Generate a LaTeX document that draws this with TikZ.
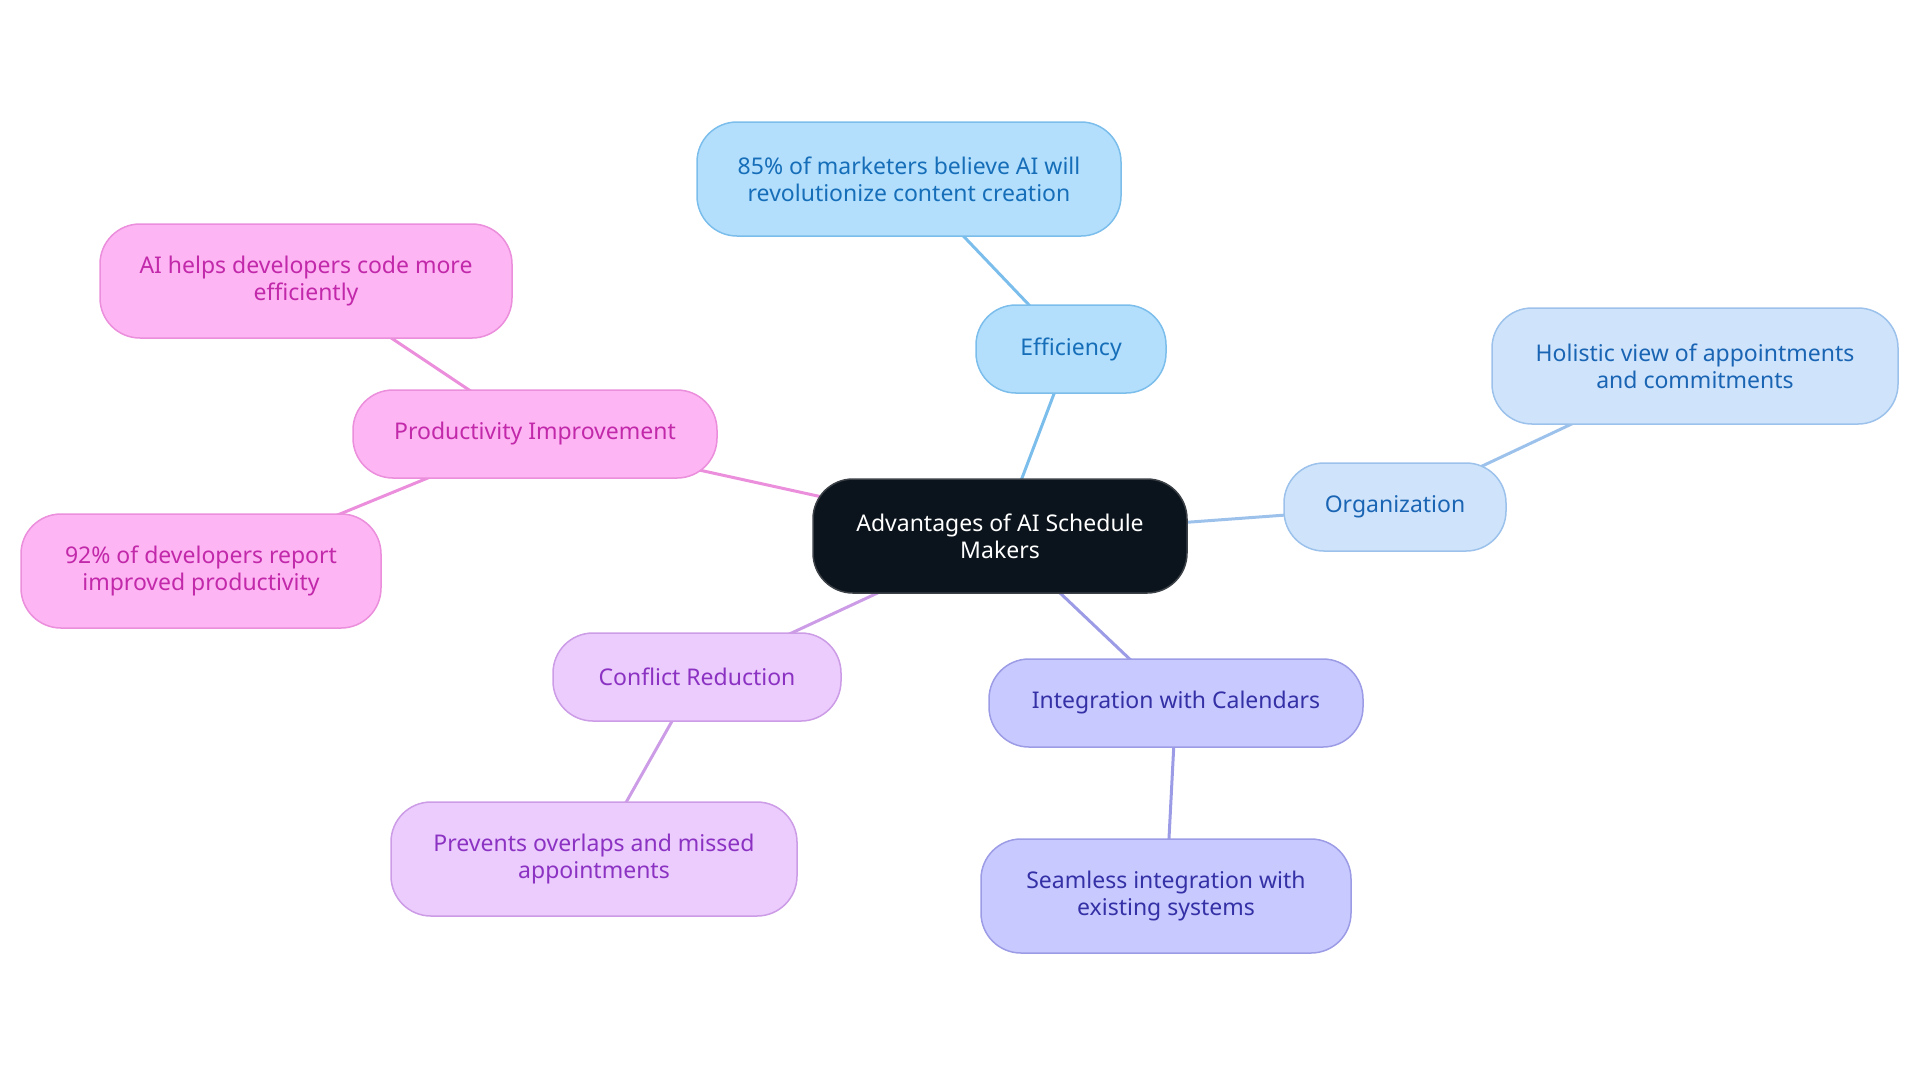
\documentclass[tikz,border=0pt]{standalone}
\usepackage{fontspec}
\setmainfont{Noto Sans}
\usetikzlibrary{backgrounds}
\definecolor{rootfill}{HTML}{0B141C}
\definecolor{rootline}{HTML}{3C4148}
\definecolor{efffill}{HTML}{B3DFFC}
\definecolor{effline}{HTML}{7CBEEB}
\definecolor{efftext}{HTML}{166EB9}
\definecolor{orgfill}{HTML}{CFE4FB}
\definecolor{orgline}{HTML}{9CC2EC}
\definecolor{orgtext}{HTML}{1A64B4}
\definecolor{intfill}{HTML}{C8C9FE}
\definecolor{intline}{HTML}{9C9CE6}
\definecolor{inttext}{HTML}{3430A6}
\definecolor{conffill}{HTML}{EBCCFD}
\definecolor{confline}{HTML}{CC9CE6}
\definecolor{conftext}{HTML}{8C32C3}
\definecolor{prodfill}{HTML}{FDB6F3}
\definecolor{prodline}{HTML}{EB8EDC}
\definecolor{prodtext}{HTML}{C228AA}
\begin{document}
\begin{tikzpicture}[x=0.5pt, y=-0.5pt,
        box/.style={rectangle, rounded corners=20pt, draw, line width=0.75pt, align=center, inner sep=0pt, font=\fontsize{11.5}{13.4}\selectfont},
        root/.style={box, fill=rootfill, draw=rootline, text=white},
        effbox/.style={box, fill=efffill, draw=effline, text=efftext},
        orgbox/.style={box, fill=orgfill, draw=orgline, text=orgtext},
        intbox/.style={box, fill=intfill, draw=intline, text=inttext},
        confbox/.style={box, fill=conffill, draw=confline, text=conftext},
        prodbox/.style={box, fill=prodfill, draw=prodline, text=prodtext},
        link/.style={line width=1.5pt}
    ]
        \useasboundingbox (0,0) rectangle (1920,1083);

        \node[root, minimum width=187pt, minimum height=57pt] (root) at (1000,536) {Advantages of AI Schedule\\Makers};

        \node[effbox, minimum width=95pt, minimum height=44pt] (eff) at (1071,349) {Efficiency};
        \node[effbox, minimum width=212pt, minimum height=57pt] (mkt) at (909,179) {85\% of marketers believe AI will\\revolutionize content creation};

        \node[orgbox, minimum width=111pt, minimum height=44pt] (org) at (1395,507) {Organization};
        \node[orgbox, minimum width=203pt, minimum height=58pt] (hol) at (1695,366) {Holistic view of appointments\\and commitments};

        \node[intbox, minimum width=187pt, minimum height=44pt] (int) at (1176,703) {Integration with Calendars};
        \node[intbox, minimum width=185pt, minimum height=57pt] (seam) at (1166,896) {Seamless integration with\\existing systems};

        \node[confbox, minimum width=144pt, minimum height=44pt] (conf) at (697,677) {Conflict Reduction};
        \node[confbox, minimum width=203pt, minimum height=57pt] (prev) at (594,859) {Prevents overlaps and missed\\appointments};

        \node[prodbox, minimum width=182pt, minimum height=44pt] (prod) at (535,434) {Productivity Improvement};
        \node[prodbox, minimum width=206pt, minimum height=57pt] (aihelp) at (306,281) {AI helps developers code more\\efficiently};
        \node[prodbox, minimum width=180pt, minimum height=57pt] (dev) at (201,571) {92\% of developers report\\improved productivity};

        % connectors go behind the boxes
        \begin{scope}[on background layer]
            \draw[link, effline] (root.center) -- (eff.center);
            \draw[link, effline] (eff.center) -- (mkt.center);
            \draw[link, orgline] (root.center) -- (org.center);
            \draw[link, orgline] (org.center) -- (hol.center);
            \draw[link, intline] (root.center) -- (int.center);
            \draw[link, intline] (int.center) -- (seam.center);
            \draw[link, confline] (root.center) -- (conf.center);
            \draw[link, confline] (conf.center) -- (prev.center);
            \draw[link, prodline] (root.center) -- (prod.center);
            \draw[link, prodline] (prod.center) -- (aihelp.center);
            \draw[link, prodline] (prod.center) -- (dev.center);
        \end{scope}
    \end{tikzpicture}
\end{document}
